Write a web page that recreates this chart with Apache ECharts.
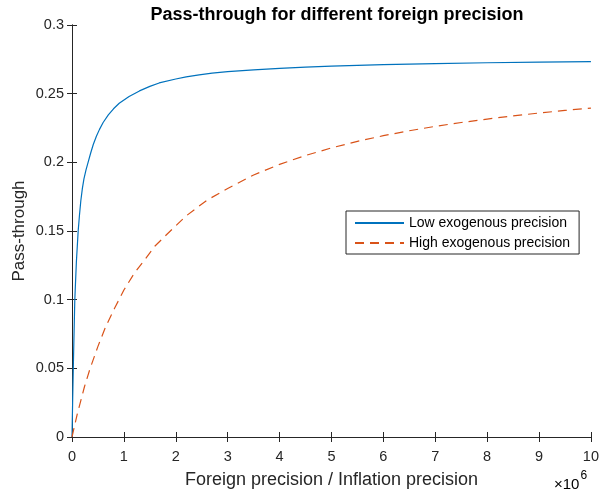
<!DOCTYPE html>
<html>
<head>
<meta charset="utf-8">
<script src="https://cdn.jsdelivr.net/npm/echarts@6/dist/echarts.min.js"></script>
<style>html,body{margin:0;padding:0;background:#fff}#c{width:602px;height:495px}</style>
</head>
<body>
<div id="c"></div>
<script>
// x values in units of 10^6
var lowX = [0, 0.012, 0.025, 0.038, 0.054, 0.085, 0.119, 0.145, 0.17, 0.2, 0.23, 0.27, 0.31, 0.36, 0.41, 0.47, 0.53, 0.6, 0.7, 0.8, 0.91, 1.1, 1.3, 1.5, 1.68, 2.0, 2.2, 2.45, 2.7, 3, 3.5, 4, 4.5, 5, 6, 7, 8, 9, 10];
var lowY = [0, 0.025, 0.05, 0.073, 0.1, 0.128, 0.15, 0.162, 0.172, 0.181, 0.188, 0.1945, 0.2, 0.2068, 0.213, 0.219, 0.224, 0.229, 0.2345, 0.239, 0.243, 0.248, 0.252, 0.2553, 0.2578, 0.2607, 0.2622, 0.2637, 0.2649, 0.266, 0.2673, 0.2684, 0.2693, 0.27, 0.2711, 0.2719, 0.2725, 0.273, 0.2734];
var highX = [0, 0.1, 0.24, 0.35, 0.5, 0.65, 0.82, 1.0, 1.2, 1.4, 1.6, 1.84, 2.2, 2.6, 3, 3.5, 4, 4.5, 5, 5.5, 6, 6.5, 7, 7.5, 8, 8.5, 9, 9.5, 10];
var highY = [0, 0.0165, 0.0366, 0.05, 0.066, 0.0804, 0.0937, 0.107, 0.1192, 0.129, 0.1391, 0.148, 0.161, 0.1724, 0.181, 0.1908, 0.1985, 0.205, 0.2105, 0.2153, 0.2194, 0.223, 0.2262, 0.229, 0.2315, 0.2338, 0.2359, 0.2378, 0.2395];
var xTicks = [0, 1, 2, 3, 4, 5, 6, 7, 8, 9, 10];
var yTicks = [0, 0.05, 0.1, 0.15, 0.2, 0.25, 0.3];
var seriesNames = ['Low exogenous precision', 'High exogenous precision'];

function zip(a, b) { return a.map(function (v, i) { return [v, b[i]]; }); }
var ax = '#262626';
var font = 'Liberation Sans, Arial, Helvetica, sans-serif';

var chart = echarts.init(document.getElementById('c'));
var axisCommon = {
  axisLine: { show: true, lineStyle: { color: ax, width: 1 } },
  axisTick: { show: true, inside: true, length: 5, lineStyle: { color: ax } },
  splitLine: { show: false }
};
chart.setOption({
  animation: false,
  backgroundColor: '#fff',
  title: {
    text: 'Pass-through for different foreign precision',
    left: 332, top: 1, textAlign: 'center',
    textStyle: { fontFamily: font, fontSize: 18, fontWeight: 'bold', color: '#000' }
  },
  grid: { left: 72, right: 9, top: 25, bottom: 58 },
  legend: {
    orient: 'vertical', left: 346, top: 211,
    data: seriesNames,
    itemWidth: 49, itemHeight: 14, itemGap: 6,
    padding: [5, 9, 4, 8],
    borderColor: ax, borderWidth: 1, backgroundColor: '#fff',
    itemStyle: { color: 'rgba(0,0,0,0)', borderWidth: 0, opacity: 0 },
    textStyle: { fontFamily: font, fontSize: 14, color: '#000' }
  },
  xAxis: [
    Object.assign({}, axisCommon, {
      type: 'value', min: 0, max: 10, interval: 1, position: 'bottom',
      name: 'Foreign precision / Inflation precision', nameLocation: 'middle', nameGap: 34,
      nameTextStyle: { fontFamily: font, fontSize: 18, color: ax },
      axisLabel: { fontFamily: font, fontSize: 14.5, color: ax, margin: 12 }
    }),
    Object.assign({}, axisCommon, {
      type: 'value', min: 0, max: 10, interval: 1, position: 'top',
      axisLabel: { show: false }
    })
  ],
  yAxis: [
    Object.assign({}, axisCommon, {
      type: 'value', min: 0, max: 0.3, interval: 0.05, position: 'left',
      name: 'Pass-through', nameLocation: 'middle', nameGap: 44, nameMoveOverlap: false,
      nameTextStyle: { fontFamily: font, fontSize: 17, color: ax },
      axisLabel: { fontFamily: font, fontSize: 14.5, color: ax, margin: 8,
        formatter: function (v) { return String(+v.toFixed(2)); } }
    }),
    Object.assign({}, axisCommon, {
      type: 'value', min: 0, max: 0.3, interval: 0.05, position: 'right',
      axisLabel: { show: false }
    })
  ],
  series: [
    {
      name: seriesNames[0], type: 'line', data: zip(lowX, lowY),
      showSymbol: false, symbol: 'none', smooth: false,
      lineStyle: { color: '#0072BD', width: 1.2 }, itemStyle: { color: '#0072BD' }
    },
    {
      name: seriesNames[1], type: 'line', data: zip(highX, highY),
      showSymbol: false, symbol: 'none', smooth: false,
      lineStyle: { color: '#D95319', width: 1.2, type: [9, 6] }, itemStyle: { color: '#D95319' }
    }
  ],
  graphic: [{
    type: 'text', left: 554, top: 470,
    style: {
      text: '{a|×10}{b|6}',
      rich: {
        a: { fontFamily: font, fontSize: 15, color: ax, padding: [7, 0, 0, 0] },
        b: { fontFamily: font, fontSize: 12, color: ax, verticalAlign: 'top', padding: [0, 0, 8, 1] }
      }
    }
  }]
});
</script>
</body>
</html>
